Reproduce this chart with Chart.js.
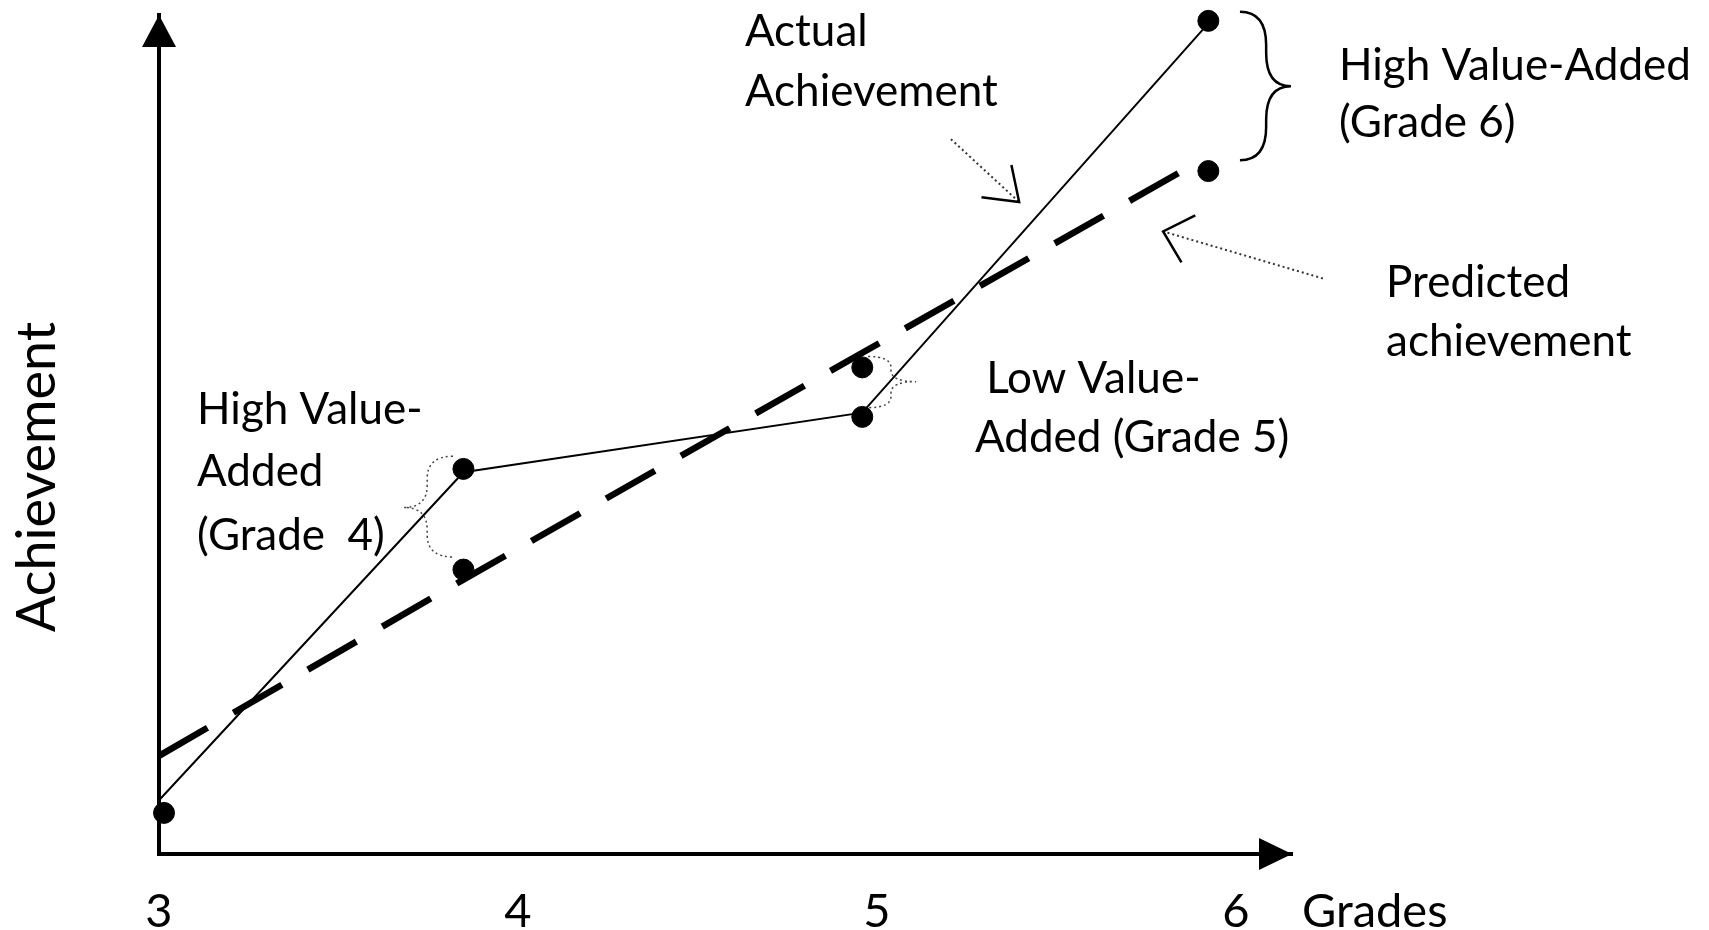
<!DOCTYPE html>
<html>
<head>
<meta charset="utf-8">
<script src="https://cdn.jsdelivr.net/npm/chart.js@4.4.1/dist/chart.umd.min.js"></script>
<style>
  html, body { margin: 0; padding: 0; background: #fff; }
</style>
</head>
<body>
<canvas id="grafico" width="1709" height="930"></canvas>
<script>
// grades on the x axis
const grades = [3, 4, 5, 6];
const gradeLabels = ['3', '4', '5', '6'];

// actual achievement (thin solid line + dots)
const actualLineX = [3.0, 3.848, 4.959, 5.923];
const actualLineY = [6.4, 45.5, 52.6, 99.0];
const actualDotX = [3.014, 3.848, 4.959, 5.923];
const actualDotY = [4.9, 45.9, 52.1, 99.3];

// predicted achievement (thick dashed line + dots)
const predictedLineX = [3.0, 3.848, 5.899];
const predictedLineY = [11.7, 32.7, 82.6];
const predictedDotX = [3.848, 4.959, 5.923];
const predictedDotY = [33.9, 58.0, 81.4];

const FONT = 'Lato';
const TXT = '#000';

function pares(xs, ys) {
    return xs.map((x, i) => ({ x: x, y: ys[i] }));
}

// annotation texts, positions in data units (left edge, middle)
const textos = [
    { t: 'Actual', x: 4.632, y: 98.0 },
    { t: 'Achievement', x: 4.632, y: 90.8 },
    { t: 'High Value-Added', x: 6.287, y: 94.0 },
    { t: '(Grade 6)', x: 6.287, y: 87.1 },
    { t: 'Predicted', x: 6.418, y: 68.1 },
    { t: 'achievement', x: 6.418, y: 61.1 },
    { t: 'Low Value-', x: 5.304, y: 56.6 },
    { t: 'Added (Grade 5)', x: 5.273, y: 49.6 },
    { t: 'High Value-', x: 3.106, y: 52.9 },
    { t: 'Added', x: 3.106, y: 45.5 },
    { t: '(Grade  4)', x: 3.106, y: 37.9 }
];

function setaAberta(ctx, x1, y1, x2, y2, len, ang) {
    const a = Math.atan2(y1 - y2, x1 - x2);
    ctx.save();
    ctx.setLineDash([2, 3]);
    ctx.lineWidth = 2;
    ctx.strokeStyle = '#333';
    ctx.beginPath();
    ctx.moveTo(x1, y1);
    ctx.lineTo(x2, y2);
    ctx.stroke();
    ctx.setLineDash([]);
    ctx.lineWidth = 2.5;
    ctx.strokeStyle = '#000';
    ctx.beginPath();
    ctx.moveTo(x2 + len * Math.cos(a + ang), y2 + len * Math.sin(a + ang));
    ctx.lineTo(x2, y2);
    ctx.lineTo(x2 + len * Math.cos(a - ang), y2 + len * Math.sin(a - ang));
    ctx.stroke();
    ctx.restore();
}

// brace: ends at x0, spine at xs, tip at xt
function chave(ctx, x0, xs, xt, yTop, yMid, yBot, dotted) {
    const r = Math.min(Math.abs(xs - x0) * 1.4, Math.abs(yMid - yTop) * 0.45, Math.abs(yBot - yMid) * 0.45);
    ctx.save();
    ctx.strokeStyle = dotted ? '#444' : '#000';
    ctx.lineWidth = dotted ? 1.5 : 2.5;
    if (dotted) ctx.setLineDash([2, 3]);
    ctx.beginPath();
    ctx.moveTo(x0, yTop);
    ctx.quadraticCurveTo(xs, yTop, xs, yTop + r);
    ctx.lineTo(xs, yMid - r);
    ctx.quadraticCurveTo(xs, yMid, xt, yMid);
    ctx.quadraticCurveTo(xs, yMid, xs, yMid + r);
    ctx.lineTo(xs, yBot - r);
    ctx.quadraticCurveTo(xs, yBot, x0, yBot);
    ctx.stroke();
    ctx.restore();
}

const anotacoes = {
    id: 'anotacoes',
    afterDraw(chart) {
        const ctx = chart.ctx;
        const area = chart.chartArea;
        const px = v => chart.scales.x.getPixelForValue(v);
        const py = v => chart.scales.y.getPixelForValue(v);

        // axis arrow heads
        ctx.save();
        ctx.fillStyle = '#000';
        ctx.beginPath();
        ctx.moveTo(area.left, area.top);
        ctx.lineTo(area.left - 17, area.top + 32);
        ctx.lineTo(area.left + 17, area.top + 32);
        ctx.closePath();
        ctx.fill();
        ctx.beginPath();
        ctx.moveTo(area.right, area.bottom);
        ctx.lineTo(area.right - 33, area.bottom - 16);
        ctx.lineTo(area.right - 33, area.bottom + 16);
        ctx.closePath();
        ctx.fill();
        ctx.restore();

        // texts
        ctx.save();
        ctx.fillStyle = TXT;
        ctx.font = '44px ' + FONT;
        ctx.textBaseline = 'middle';
        ctx.textAlign = 'left';
        textos.forEach((item) => {
            ctx.fillText(item.t, px(item.x), py(item.y));
        });
        ctx.font = '47px ' + FONT;
        ctx.fillText('Grades', area.right + 10, 912);
        ctx.translate(38, 477);
        ctx.rotate(-Math.PI / 2);
        ctx.textAlign = 'center';
        ctx.font = '54px ' + FONT;
        ctx.fillText('Achievement', 0, 0);
        ctx.restore();

        // pointer arrows
        setaAberta(ctx, px(5.206), py(85.2), px(5.396), py(77.7), 38, 0.62);
        setaAberta(ctx, px(6.242), py(68.6), px(5.797), py(74.2), 36, 0.75);

        // braces
        chave(ctx, px(6.011), px(6.084), px(6.153), py(100.4), py(91.5), py(82.7), false);
        chave(ctx, px(4.975), px(5.039), px(5.109), py(59.3), py(56.3), py(53.2), true);
        chave(ctx, px(3.819), px(3.747), px(3.682), py(47.4), py(41.3), py(35.4), true);
    }
};

const ctx = document.getElementById('grafico');

new Chart(ctx, {
    type: 'scatter',
    data: {
        datasets: [
            {
                label: 'Actual Achievement',
                data: pares(actualLineX, actualLineY),
                showLine: true,
                borderColor: '#000',
                borderWidth: 2,
                pointRadius: 0,
                clip: false
            },
            {
                label: 'Predicted achievement',
                data: pares(predictedLineX, predictedLineY),
                showLine: true,
                borderColor: '#000',
                borderWidth: 6.5,
                borderDash: [56, 30],
                borderCapStyle: 'butt',
                pointRadius: 0,
                clip: false
            },
            {
                label: 'Actual points',
                data: pares(actualDotX, actualDotY),
                backgroundColor: '#000',
                borderColor: '#000',
                pointRadius: 10.5,
                clip: false
            },
            {
                label: 'Predicted points',
                data: pares(predictedDotX, predictedDotY),
                backgroundColor: '#000',
                borderColor: '#000',
                pointRadius: 10.5,
                clip: false
            }
        ]
    },
    options: {
        responsive: false,
        animation: false,
        layout: {
            padding: { top: 15, right: 417, left: 0, bottom: 0 }
        },
        plugins: {
            legend: { display: false },
            tooltip: { enabled: false }
        },
        scales: {
            x: {
                type: 'linear',
                min: 3,
                max: 6.156,
                afterBuildTicks: (scale) => {
                    scale.ticks = grades.map(v => ({ value: v }));
                },
                afterFit: (scale) => { scale.height = 76; },
                grid: { display: false, drawTicks: false },
                border: { display: true, color: '#000', width: 4 },
                ticks: {
                    autoSkip: false,
                    maxRotation: 0,
                    padding: 30,
                    color: TXT,
                    font: { family: FONT, size: 47 },
                    callback: (v, i) => gradeLabels[i]
                }
            },
            y: {
                type: 'linear',
                min: 0,
                max: 100,
                afterFit: (scale) => { scale.width = 159; },
                grid: { display: false, drawTicks: false },
                border: { display: true, color: '#000', width: 4 },
                ticks: { display: false }
            }
        }
    },
    plugins: [anotacoes]
});
</script>
</body>
</html>
